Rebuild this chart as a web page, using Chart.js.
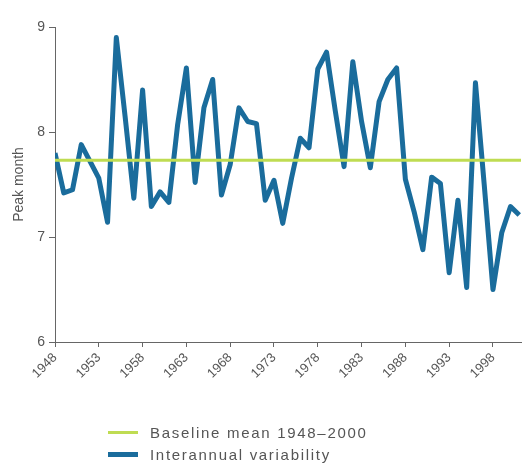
<!DOCTYPE html>
<html>
<head>
<meta charset="utf-8">
<script src="https://cdn.jsdelivr.net/npm/chart.js@4.4.1/dist/chart.umd.min.js"></script>
<style>
  body { margin: 0; background: #fff; font-family: "Liberation Sans", Arial, sans-serif; }
  #wrap { position: relative; width: 522px; height: 466px; }
  #legend { position: absolute; left: 108px; top: 421px; color: #555; font-size: 15px; letter-spacing: 1.7px; }
  .item { display: flex; align-items: center; height: 22px; }
  .swatch { width: 30px; margin-right: 12px; }
</style>
</head>
<body>
<div id="wrap">
  <canvas id="chart" width="522" height="466"></canvas>
  <div id="legend">
    <div class="item"><span class="swatch" style="height:3px;background:#bfdc52"></span>Baseline mean 1948–2000</div>
    <div class="item"><span class="swatch" style="height:5px;background:#1a6c9c"></span>Interannual variability</div>
  </div>
</div>
<script>
// Data
const years = [1948, 1949, 1950, 1951, 1952, 1953, 1954, 1955, 1956, 1957,
               1958, 1959, 1960, 1961, 1962, 1963, 1964, 1965, 1966, 1967,
               1968, 1969, 1970, 1971, 1972, 1973, 1974, 1975, 1976, 1977,
               1978, 1979, 1980, 1981, 1982, 1983, 1984, 1985, 1986, 1987,
               1988, 1989, 1990, 1991, 1992, 1993, 1994, 1995, 1996, 1997,
               1998, 1999, 2000, 2001];
const peakMonth = [7.80, 7.42, 7.45, 7.88, 7.72, 7.56, 7.14, 8.90, 8.15, 7.37,
                   8.40, 7.29, 7.43, 7.33, 8.07, 8.61, 7.52, 8.23, 8.50, 7.40,
                   7.69, 8.23, 8.10, 8.08, 7.35, 7.54, 7.13, 7.56, 7.94, 7.85,
                   8.60, 8.76, 8.20, 7.67, 8.67, 8.10, 7.66, 8.29, 8.50, 8.61,
                   7.55, 7.24, 6.88, 7.57, 7.51, 6.66, 7.35, 6.52, 8.47, 7.50,
                   6.50, 7.04, 7.29, 7.21];
const baselineYears = [1948, 2001.2];
const baselineMean = [7.73, 7.73];
const xTicks = [1948, 1953, 1958, 1963, 1968, 1973, 1978, 1983, 1988, 1993, 1998];
const yTicks = [6, 7, 8, 9];

const axisGrey = "#666";
const textGrey = "#555";

new Chart(document.getElementById("chart"), {
    type: "line",
    data: {
        datasets: [
            {
                label: "Baseline mean 1948–2000",
                data: baselineYears.map((x, i) => ({ x: x, y: baselineMean[i] })),
                borderColor: "#bfdc52",
                borderWidth: 3,
                pointRadius: 0,
                order: 0
            },
            {
                label: "Interannual variability",
                data: years.map((x, i) => ({ x: x, y: peakMonth[i] })),
                borderColor: "#1a6c9c",
                borderWidth: 5,
                borderJoinStyle: "round",
                tension: 0,
                pointRadius: 0,
                order: 1
            }
        ]
    },
    options: {
        responsive: false,
        animation: false,
        layout: { padding: { top: 27, right: 1, left: 0, bottom: 0 } },
        plugins: { legend: { display: false }, tooltip: { enabled: false } },
        scales: {
            x: {
                type: "linear",
                min: 1948,
                max: 2001.2,
                afterBuildTicks: (axis) => { axis.ticks = xTicks.map(v => ({ value: v })); },
                afterFit: (s) => { s.height = 124; },
                ticks: {
                    minRotation: 45,
                    maxRotation: 45,
                    color: textGrey,
                    font: { family: "Liberation Sans", size: 13 },
                    padding: 3,
                    callback: (v) => String(v)
                },
                grid: { drawOnChartArea: false, drawTicks: true, tickLength: 5, color: axisGrey },
                border: { color: axisGrey, dash: [2, 1] }
            },
            y: {
                min: 6,
                max: 9,
                afterBuildTicks: (axis) => { axis.ticks = yTicks.map(v => ({ value: v })); },
                afterFit: (s) => { s.width = 55; },
                ticks: {
                    color: textGrey,
                    font: { family: "Liberation Sans", size: 14 },
                    padding: 4
                },
                grid: { drawOnChartArea: false, drawTicks: true, tickLength: 6, color: axisGrey },
                border: { color: axisGrey, dash: [2, 1] },
                title: {
                    display: true,
                    text: "Peak month",
                    color: textGrey,
                    font: { family: "Liberation Sans", size: 14 },
                    padding: { top: 11, bottom: 0 }
                }
            }
        }
    }
});
</script>
</body>
</html>
